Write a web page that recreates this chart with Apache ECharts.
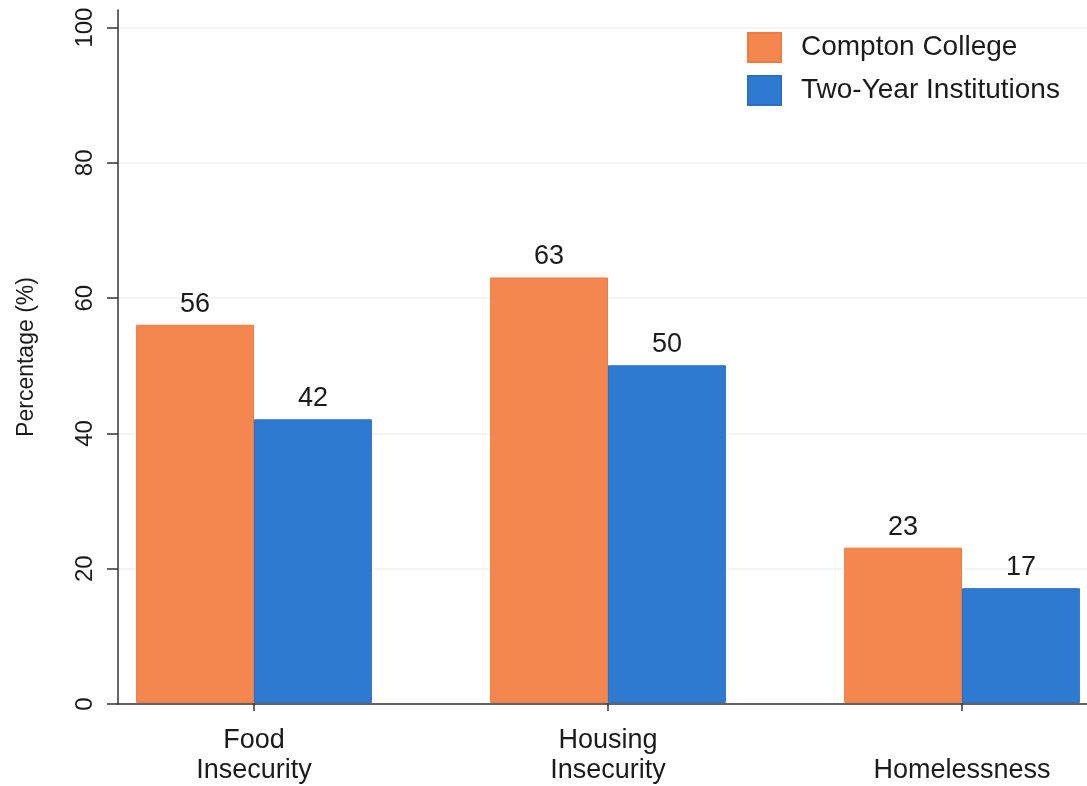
<!DOCTYPE html>
<html>
<head>
<meta charset="utf-8">
<script src="https://cdn.jsdelivr.net/npm/echarts@6/dist/echarts.min.js"></script>
<style>
  html, body { margin: 0; padding: 0; background: #ffffff; overflow: hidden; }
  /* the canvas runs past the right edge so the last category band is cut off */
  #chart { width: 1139px; height: 786px; }
</style>
</head>
<body>
<div id="chart"></div>
<script>
// Survey outcomes by category
const categories = ['Food\nInsecurity', 'Housing\nInsecurity', 'Homelessness'];
const comptonCollege = [56, 63, 23];
const twoYearInstitutions = [42, 50, 17];
const yTicks = [0, 20, 40, 60, 80, 100];
const seriesNames = ['Compton College', 'Two-Year Institutions'];

const FONT = '"Liberation Sans", Arial, sans-serif';
const INK = '#1b1b1b';
const ORANGE = '#F3874F';
const BLUE = '#2F7AD1';
const Y_MAX = 102.6;

const chart = echarts.init(document.getElementById('chart'), null, { renderer: 'canvas' });

const valueLabel = {
  show: true,
  position: 'top',
  distance: 7,
  fontFamily: FONT,
  fontSize: 27,
  color: INK
};

chart.setOption({
  backgroundColor: '#ffffff',
  animation: false,
  textStyle: { fontFamily: FONT },
  legend: {
    orient: 'vertical',
    left: 747,
    top: 32,
    padding: 0,
    itemWidth: 33,
    itemHeight: 29,
    itemGap: 12,
    icon: 'rect',
    textStyle: { fontFamily: FONT, fontSize: 28, color: INK, padding: [0, 0, 0, 15] },
    data: seriesNames
  },
  grid: [
    // bar area: three full category bands
    { left: 77, right: 0, top: 10, bottom: 82 },
    // frame area: axis lines, ticks and labels
    { left: 118, right: 52, top: 10, bottom: 82 }
  ],
  xAxis: [
    {
      type: 'category',
      gridIndex: 0,
      data: categories,
      axisLine: { show: false },
      axisTick: { show: true, alignWithLabel: true, length: 8, lineStyle: { color: '#333', width: 1.5 } },
      axisLabel: {
        fontFamily: FONT,
        fontSize: 27,
        lineHeight: 30,
        color: INK,
        verticalAlign: 'bottom',
        margin: 83
      },
      splitLine: { show: false }
    },
    {
      type: 'value',
      gridIndex: 1,
      min: 0,
      max: 1,
      axisLine: { show: true, onZero: false, lineStyle: { color: '#333', width: 1.5 } },
      axisTick: { show: false },
      axisLabel: { show: false },
      splitLine: { show: false }
    }
  ],
  yAxis: [
    {
      type: 'value',
      gridIndex: 0,
      min: 0,
      max: Y_MAX,
      show: false,
      splitLine: { show: false }
    },
    {
      type: 'value',
      gridIndex: 1,
      min: 0,
      max: Y_MAX,
      name: 'Percentage (%)',
      nameLocation: 'middle',
      nameGap: 80,
      nameTextStyle: { fontFamily: FONT, fontSize: 23, color: INK },
      axisLine: { show: true, lineStyle: { color: '#333', width: 1.5 } },
      axisTick: { show: true, length: 11, customValues: yTicks, lineStyle: { color: '#333', width: 1.5 } },
      axisLabel: {
        customValues: yTicks,
        rotate: 90,
        margin: 21,
        fontFamily: FONT,
        fontSize: 24,
        color: INK
      },
      splitLine: { show: true, lineStyle: { color: '#eff2f5', width: 1.5 } }
    }
  ],
  series: [
    {
      name: seriesNames[0],
      type: 'bar',
      xAxisIndex: 0,
      yAxisIndex: 0,
      data: comptonCollege,
      barGap: '0%',
      barCategoryGap: '33.4%',
      itemStyle: { color: ORANGE, borderColor: '#EE7C42', borderWidth: 1 },
      label: valueLabel
    },
    {
      name: seriesNames[1],
      type: 'bar',
      xAxisIndex: 0,
      yAxisIndex: 0,
      data: twoYearInstitutions,
      barGap: '0%',
      barCategoryGap: '33.4%',
      itemStyle: { color: BLUE, borderColor: '#2A6FC4', borderWidth: 1 },
      label: valueLabel
    }
  ]
});
</script>
</body>
</html>
